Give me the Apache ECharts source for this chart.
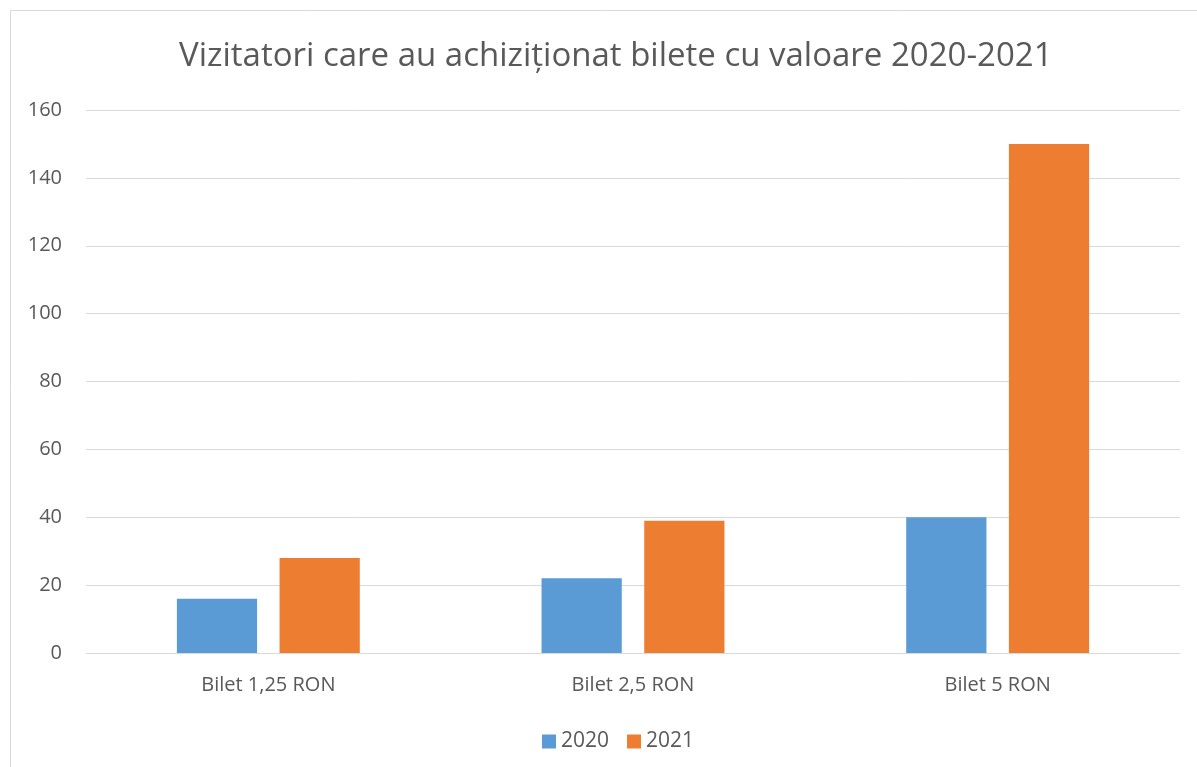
<!DOCTYPE html>
<html>
<head>
<meta charset="utf-8">
<script src="https://cdn.jsdelivr.net/npm/echarts@6/dist/echarts.min.js"></script>
<style>
  html, body { margin: 0; padding: 0; background: #fff; }
  #chart { width: 1197px; height: 767px; }
</style>
</head>
<body>
<div id="chart"></div>
<script>
const categories = ["Bilet 1,25 RON", "Bilet 2,5 RON", "Bilet 5 RON"];
const values2020 = [16, 22, 40];
const values2021 = [28, 39, 150];
const seriesNames = ["2020", "2021"];

const textColor = "#595959";
const fontFamily = "'Open Sans', 'Noto Sans', sans-serif";

const myChart = echarts.init(document.getElementById("chart"));

myChart.setOption({
  animation: false,
  textStyle: { fontFamily: fontFamily },
  graphic: [
    {
      type: "rect",
      shape: { x: 10.5, y: 10.5, width: 1200, height: 800 },
      style: { fill: "none", stroke: "#d9d9d9", lineWidth: 1 },
      silent: true,
    },
  ],
  title: {
    text: "Vizitatori care au achiziționat bilete cu valoare 2020-2021",
    left: 174,
    top: 35,
    textStyle: {
      color: textColor,
      fontSize: 33,
      fontWeight: "normal",
      fontFamily: fontFamily,
    },
  },
  legend: {
    top: 726,
    left: 537,
    itemWidth: 14,
    itemHeight: 14,
    itemGap: 18,
    icon: "rect",
    textStyle: { color: textColor, fontSize: 21, fontFamily: fontFamily },
    data: seriesNames,
  },
  grid: {
    left: 86,
    right: 17,
    top: 110,
    bottom: 114,
    containLabel: false,
  },
  xAxis: {
    type: "category",
    data: categories,
    axisLine: { lineStyle: { color: "#d9d9d9", width: 1 } },
    axisTick: { show: false },
    axisLabel: {
      color: textColor,
      fontSize: 20,
      margin: 22,
      fontFamily: fontFamily,
    },
  },
  yAxis: {
    type: "value",
    min: 0,
    max: 160,
    interval: 20,
    axisLine: { show: false },
    axisTick: { show: false },
    splitLine: { lineStyle: { color: "#d9d9d9", width: 1 } },
    axisLabel: {
      color: textColor,
      fontSize: 20,
      margin: 24,
      fontFamily: fontFamily,
    },
  },
  series: [
    {
      name: seriesNames[0],
      type: "bar",
      data: values2020,
      barWidth: "22%",
      barGap: "28%",
      itemStyle: { color: "#5b9bd5" },
    },
    {
      name: seriesNames[1],
      type: "bar",
      data: values2021,
      barWidth: "22%",
      itemStyle: { color: "#ed7d31" },
    },
  ],
});
</script>
</body>
</html>
